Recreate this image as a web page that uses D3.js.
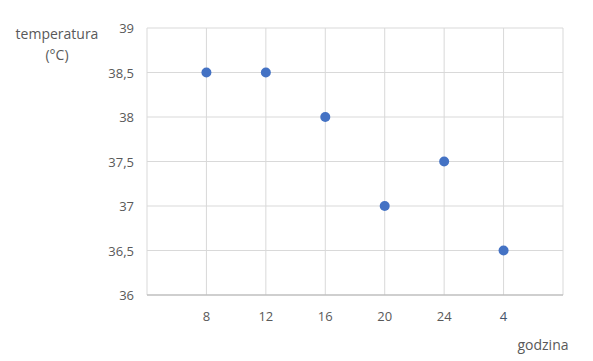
<!DOCTYPE html>
<html>
<head>
<meta charset="utf-8">
<script src="https://cdn.jsdelivr.net/npm/d3@7"></script>
<style>
body { margin: 0; background: #fff; }
text { font-family: "Open Sans", "Liberation Sans", sans-serif; fill: #595959; }
</style>
</head>
<body>
<script>
var hours = ["8", "12", "16", "20", "24", "4"];
var temps = [38.5, 38.5, 38, 37, 37.5, 36.5];
var yTicks = [36, 36.5, 37, 37.5, 38, 38.5, 39];

var w = 593, h = 361;
var plotL = 147, plotR = 563, plotT = 28, plotB = 295;

var svg = d3.select("body").append("svg")
	.attr("width", w)
	.attr("height", h);

var x = d3.scaleLinear().domain([0, hours.length + 1]).range([plotL, plotR]);
var y = d3.scaleLinear().domain([36, 39]).range([plotB, plotT]);

// grid
svg.selectAll("line.hg")
	.data(yTicks.slice(1))
	.enter().append("line")
	.attr("x1", plotL).attr("x2", plotR)
	.attr("y1", function(d) { return y(d); })
	.attr("y2", function(d) { return y(d); })
	.attr("stroke", "#d9d9d9").attr("stroke-width", 1);

svg.selectAll("line.vg")
	.data(d3.range(0, hours.length + 2))
	.enter().append("line")
	.attr("x1", function(d) { return x(d); })
	.attr("x2", function(d) { return x(d); })
	.attr("y1", plotT).attr("y2", plotB)
	.attr("stroke", "#d9d9d9").attr("stroke-width", 1);

svg.append("line")
	.attr("x1", plotL).attr("x2", plotR)
	.attr("y1", plotB).attr("y2", plotB)
	.attr("stroke", "#bfbfbf").attr("stroke-width", 1.5);

// y labels
svg.selectAll("text.yl")
	.data(yTicks)
	.enter().append("text")
	.attr("x", 134)
	.attr("y", function(d) { return y(d) + 5; })
	.attr("text-anchor", "end")
	.attr("font-size", 13)
	.text(function(d) { return String(d).replace(".", ","); });

// x labels
svg.selectAll("text.xl")
	.data(hours)
	.enter().append("text")
	.attr("x", function(d, i) { return x(i + 1); })
	.attr("y", 321)
	.attr("text-anchor", "middle")
	.attr("font-size", 13)
	.style("fill", function(d, i) { return i == hours.length - 1 ? "#44546a" : "#595959"; })
	.text(function(d) { return d; });

// points
svg.selectAll("circle")
	.data(temps)
	.enter().append("circle")
	.attr("cx", function(d, i) { return x(i + 1); })
	.attr("cy", function(d) { return y(d); })
	.attr("r", 5)
	.attr("fill", "#4472c4");

// axis titles
svg.append("text").attr("x", 57).attr("y", 39).attr("text-anchor", "middle")
	.attr("font-size", 14).text("temperatura");
svg.append("text").attr("x", 57).attr("y", 60).attr("text-anchor", "middle")
	.attr("font-size", 14).text("(°C)");
svg.append("text").attr("x", 543).attr("y", 350).attr("text-anchor", "middle")
	.attr("font-size", 14).text("godzina");
</script>
</body>
</html>
